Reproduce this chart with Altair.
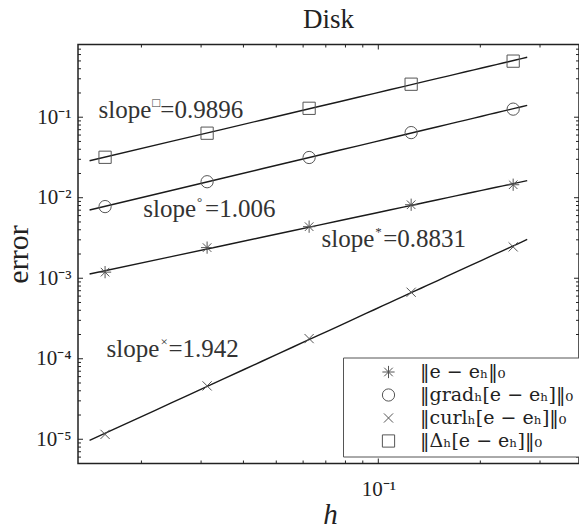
import altair as alt
import pandas as pd

# ---------------- data ----------------
h = [1/64, 1/32, 1/16, 1/8, 1/4]
err_e = [0.00119, 0.0024, 0.00437, 0.00818, 0.0145]
err_grad = [0.00776, 0.0158, 0.0316, 0.0644, 0.126]
err_curl = [1.15e-5, 4.6e-5, 1.78e-4, 6.7e-4, 2.45e-3]
err_lap = [0.0318, 0.0633, 0.129, 0.257, 0.497]

series_labels = ["‖e − eₕ‖₀", "‖gradₕ[e − eₕ]‖₀", "‖curlₕ[e − eₕ]‖₀", "‖Δₕ[e − eₕ]‖₀"]
series_values = [err_e, err_grad, err_curl, err_lap]

fit_extent = [0.9 / 64, 1.1 / 4]

title_text = ["Disk"]

# slope annotations (anchor at the junction of "slope" and "=value")
ann_h = [0.0214, 0.0290, 0.0973, 0.0226]
ann_err = [0.0972, 0.00581, 0.00246, 1.06e-4]
ann_sup = ["□", "°", "*", "×"]
ann_val = ["=0.9896", "=1.006", "=0.8831", "=1.942"]

# axis ticks / labels
x_label_values = [0.1]
x_label_texts = ["10⁻¹"]
y_label_values = [1e-5, 1e-4, 1e-3, 1e-2, 1e-1]
y_label_texts = ["10⁻⁵", "10⁻⁴", "10⁻³", "10⁻²", "10⁻¹"]
x_minor = [0.02, 0.03, 0.04, 0.05, 0.06, 0.07, 0.08, 0.09, 0.2, 0.3]
y_minor = [k * 10.0 ** d for d in range(-6, 0) for k in range(2, 10)
           if 5e-6 <= k * 10.0 ** d <= 0.8]

# ---------------- frames ----------------
rows = []
for lab, vals in zip(series_labels, series_values):
    for hv, ev in zip(h, vals):
        rows.append({"h": hv, "err": ev, "series": lab})
df = pd.DataFrame(rows)

ann_df = pd.DataFrame({"h": ann_h, "err": ann_err, "sup": ann_sup, "val": ann_val})
title_df = pd.DataFrame({"title": title_text})

W, H = 501, 419
SERIF = "Liberation Serif"
INK = "#222222"

xscale = alt.Scale(type="log", domain=[0.013, 0.391], nice=False)
yscale = alt.Scale(type="log", domain=[5e-6, 0.8], nice=False)


def label_expr(values, texts):
    parts = []
    for v, t in zip(values, texts):
        parts.append(f"abs(datum.value - {v}) < {v * 0.01} ? '{t}'")
    return " : ".join(parts) + " : ''"


xaxis = alt.Axis(
    values=x_label_values, labelExpr=label_expr(x_label_values, x_label_texts),
    ticks=False, tickSize=0, domain=False, grid=False,
    labelFont=SERIF, labelFontSize=21, labelColor=INK, labelPadding=32,
    labelBaseline="alphabetic", labelFlush=False,
    title="h", titleFont=SERIF, titleFontSize=29, titleFontStyle="italic",
    titleFontWeight="normal", titleColor=INK, titleX=252, titleY=60,
    titleBaseline="alphabetic", titleAlign="center",
)
yaxis = alt.Axis(
    values=y_label_values, labelExpr=label_expr(y_label_values, y_label_texts),
    ticks=False, tickSize=0, domain=False, grid=False,
    labelFont=SERIF, labelFontSize=21, labelColor=INK, labelPadding=7,
    labelBaseline="middle", labelFlush=False,
    title="error", titleFont=SERIF, titleFontSize=30, titleFontWeight="normal",
    titleColor=INK, titleAngle=270, titleX=-51, titleY=209.5,
    titleBaseline="alphabetic", titleAlign="center",
)


def X(field):
    return alt.X(f"{field}:Q", scale=xscale, axis=xaxis)


def Y(field):
    return alt.Y(f"{field}:Q", scale=yscale, axis=yaxis)


star = "M0,-1L0,1M-1,0L1,0M-0.7,-0.7L0.7,0.7M-0.7,0.7L0.7,-0.7"
cross = "M-0.75,-0.75L0.75,0.75M-0.75,0.75L0.75,-0.75"
shape_range = [star, "circle", cross, "square"]

base = alt.Chart(df)

lines = base.transform_regression(
    "h", "err", method="pow", extent=fit_extent, groupby=["series"]
).mark_line(color="#1a1a1a", strokeWidth=1.4).encode(
    x=X("h"), y=Y("err"), detail="series:N"
)

points = base.mark_point(filled=False, size=150, strokeWidth=1, color="#555555", opacity=1).encode(
    x=X("h"), y=Y("err"),
    shape=alt.Shape(
        "series:N",
        scale=alt.Scale(domain=series_labels, range=shape_range),
        legend=alt.Legend(
            title=None, orient="none", legendX=265, legendY=313, direction="vertical",
            strokeColor="#555555", fillColor="white", padding=5, cornerRadius=0,
            symbolOffset=31, labelOffset=22, symbolSize=150, symbolStrokeWidth=1,
            symbolStrokeColor="#555555", labelFont="DejaVu Serif", labelFontSize=19,
            labelColor=INK, rowPadding=3, labelLimit=400,
        ),
    ),
)

# inward ticks on all four sides
xmaj = pd.DataFrame({"t": x_label_values})
xmin = pd.DataFrame({"t": x_minor})
ymaj = pd.DataFrame({"t": y_label_values})
ymin = pd.DataFrame({"t": y_minor})

tick_layers = []
for d, ln in ((xmaj, 5), (xmin, 3)):
    tick_layers.append(alt.Chart(d).mark_rule(color=INK, strokeWidth=1).encode(
        x=X("t"), y=alt.value(H), y2=alt.value(H - ln)))
    tick_layers.append(alt.Chart(d).mark_rule(color=INK, strokeWidth=1).encode(
        x=X("t"), y=alt.value(0), y2=alt.value(ln)))
for d, ln in ((ymaj, 5), (ymin, 3)):
    tick_layers.append(alt.Chart(d).mark_rule(color=INK, strokeWidth=1).encode(
        y=Y("t"), x=alt.value(0), x2=alt.value(ln)))
    tick_layers.append(alt.Chart(d).mark_rule(color=INK, strokeWidth=1).encode(
        y=Y("t"), x=alt.value(W), x2=alt.value(W - ln)))

ann = alt.Chart(ann_df)
ann_slope = ann.mark_text(align="right", baseline="alphabetic", font=SERIF, fontSize=25,
                          color="#333333", text="slope").encode(x=X("h"), y=Y("err"))
ann_sup_l = ann.mark_text(align="left", baseline="alphabetic", font=SERIF, fontSize=13,
                          color="#333333", dx=1, dy=-11).encode(x=X("h"), y=Y("err"), text="sup:N")
ann_val_l = ann.mark_text(align="left", baseline="alphabetic", font=SERIF, fontSize=25,
                          color="#333333", dx=9).encode(x=X("h"), y=Y("err"), text="val:N")

title_mark = alt.Chart(title_df).mark_text(
    align="center", baseline="alphabetic", font=SERIF, fontSize=27, color=INK
).encode(x=alt.value(W / 2), y=alt.value(-17), text="title:N")

chart = alt.layer(
    lines, points, *tick_layers, ann_slope, ann_sup_l, ann_val_l, title_mark
).properties(
    width=W, height=H,
    autosize=alt.AutoSizeParams(type="none"),
    padding={"left": 78, "top": 44.5, "right": 0, "bottom": 65},
).configure_view(stroke=INK, strokeWidth=1.5)

chart.save("out.html", embed_options={"renderer": "svg", "actions": False})
